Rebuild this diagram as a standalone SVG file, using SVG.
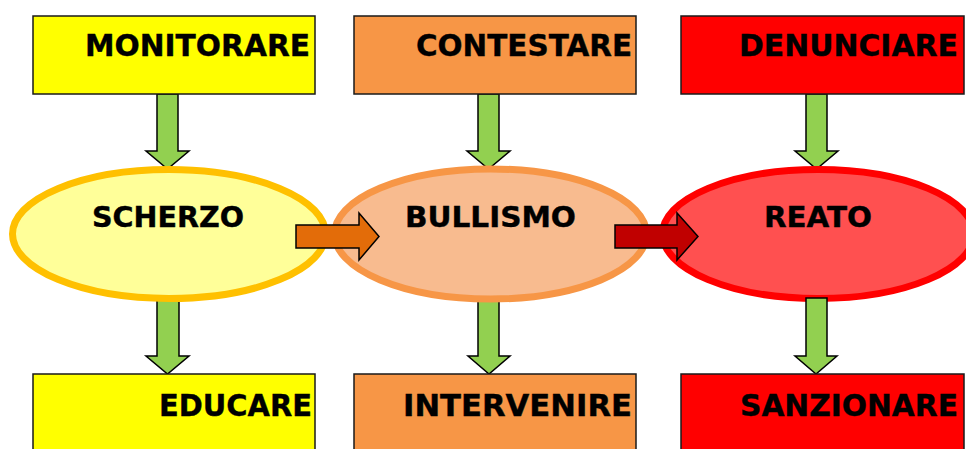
<svg xmlns="http://www.w3.org/2000/svg" width="966" height="449" viewBox="0 0 966 449">
<style>
.box{stroke:#1a1a1a;stroke-width:1.5}
.t{font-family:"DejaVu Sans",Verdana,sans-serif;font-weight:bold;fill:#000;stroke:#000;stroke-width:0.4}
.bt{font-size:31px}
.et{font-size:28px}
.ga{fill:#92D050;stroke:#000;stroke-width:1.5;stroke-linejoin:miter}
.ha{stroke:#000;stroke-width:1.5}
</style>
<rect width="966" height="449" fill="#fff"/>
<g id="connectors">
<path class="ga" d="M157,94 H178 V151 H189 L167.5,169 L146,151 H157 Z"/>
<path class="ga" d="M478,94 H499 V151 H510 L488.5,169 L467,151 H478 Z"/>
<path class="ga" d="M806,94 H827 V151 H838 L816.5,169 L795,151 H806 Z"/>
<path class="ga" d="M157,298 H179 V356 H189 L167.5,374 L146,356 H157 Z"/>
<path class="ga" d="M478,298 H499 V356 H510 L489,374 L468,356 H478 Z"/>
</g>
<g id="scherzo">
<ellipse cx="169" cy="234" rx="156.5" ry="64.5" fill="#FFFF99" stroke="#FFC000" stroke-width="7"/>
<text class="t et" x="92" y="227" textLength="152" lengthAdjust="spacingAndGlyphs">SCHERZO</text>
</g>
<g id="bullismo">
<ellipse cx="490.5" cy="234" rx="156" ry="65" fill="#F8BB8F" stroke="#F79646" stroke-width="7"/>
<text class="t et" x="405" y="227" textLength="171" lengthAdjust="spacingAndGlyphs">BULLISMO</text>
</g>
<g id="reato">
<ellipse cx="818" cy="234" rx="155.5" ry="64.5" fill="#FF5050" stroke="#FF0000" stroke-width="7"/>
<text class="t et" x="764" y="227" textLength="108" lengthAdjust="spacingAndGlyphs">REATO</text>
</g>
<g id="connectors-2">
<path class="ga" d="M806,298 H827 V356 H837 L816,374 L795,356 H806 Z"/>
<path class="ha" fill="#E36C09" d="M296,225 H359 V213 L379,236.5 L359,260 V248 H296 Z"/>
<path class="ha" fill="#C00000" d="M615,225 H677 V213 L698,236.5 L677,260 V248 H615 Z"/>
</g>
<g id="monitorare">
<rect class="box" x="33" y="16" width="282" height="78" fill="#FFFF00"/>
<text class="t bt" x="85" y="56" textLength="225" lengthAdjust="spacingAndGlyphs">MONITORARE</text>
</g>
<g id="contestare">
<rect class="box" x="354" y="16" width="282" height="78" fill="#F79646"/>
<text class="t bt" x="416" y="56" textLength="216" lengthAdjust="spacingAndGlyphs">CONTESTARE</text>
</g>
<g id="denunciare">
<rect class="box" x="681" y="16" width="283" height="78" fill="#FF0000"/>
<text class="t bt" x="739" y="56" textLength="219" lengthAdjust="spacingAndGlyphs">DENUNCIARE</text>
</g>
<g id="educare">
<rect class="box" x="33" y="374" width="282" height="90" fill="#FFFF00"/>
<text class="t bt" x="159" y="416" textLength="153" lengthAdjust="spacingAndGlyphs">EDUCARE</text>
</g>
<g id="intervenire">
<rect class="box" x="354" y="374" width="282" height="90" fill="#F79646"/>
<text class="t bt" x="403" y="416" textLength="229" lengthAdjust="spacingAndGlyphs">INTERVENIRE</text>
</g>
<g id="sanzionare">
<rect class="box" x="681" y="374" width="283" height="90" fill="#FF0000"/>
<text class="t bt" x="740" y="416" textLength="218" lengthAdjust="spacingAndGlyphs">SANZIONARE</text>
</g>
</svg>
